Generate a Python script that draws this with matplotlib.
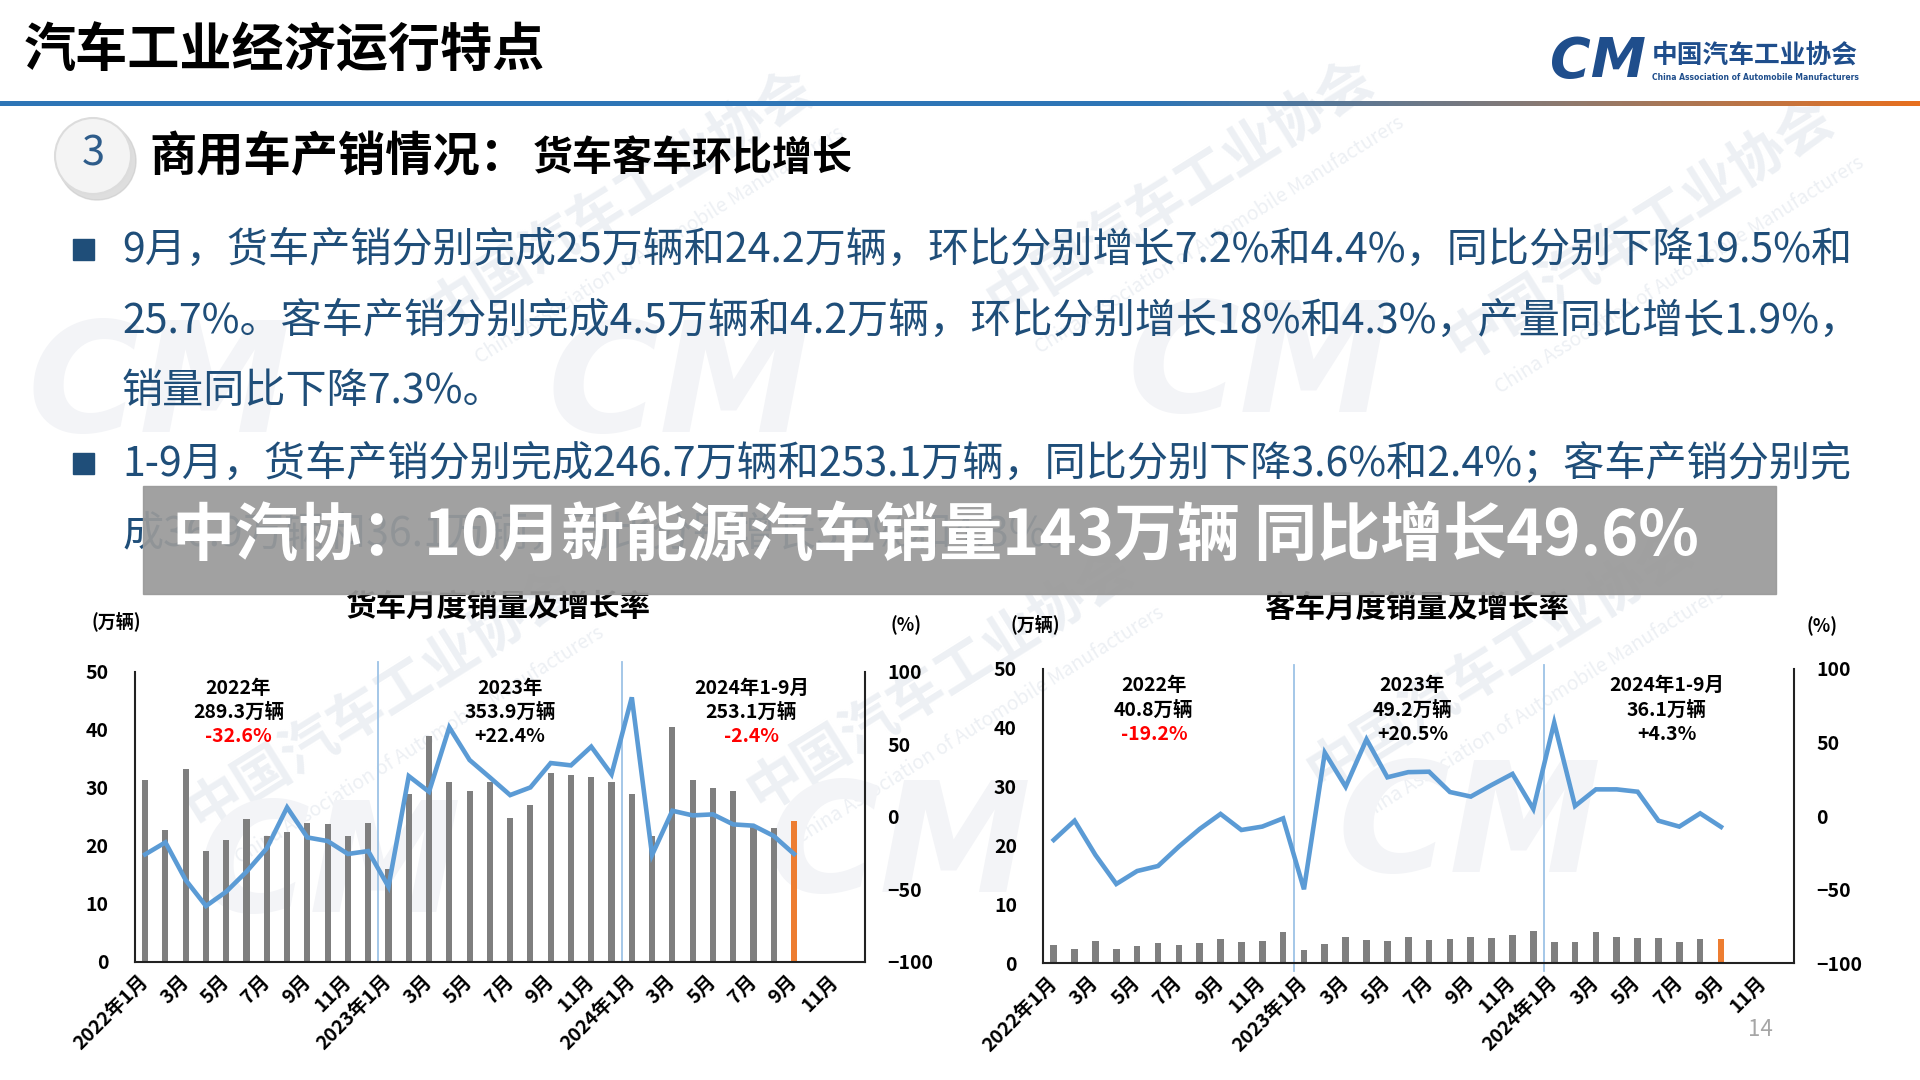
import numpy as np
import matplotlib
matplotlib.use('Agg')
import matplotlib.pyplot as plt
from matplotlib.patches import Rectangle, Circle

plt.rcParams['font.family'] = ['Noto Sans CJK SC', 'DejaVu Sans']

# 横軸ラベル (2022年1月 ~ 2024年12月, 2ヶ月おき)
tick_labels = ['2022年1月', '3月', '5月', '7月', '9月', '11月',
               '2023年1月', '3月', '5月', '7月', '9月', '11月',
               '2024年1月', '3月', '5月', '7月', '9月', '11月']

# 货车 月度销量(万辆) / 同比增长率(%)
truck_sales = [31.4, 22.7, 33.2, 19.1, 21.0, 24.6, 21.6, 22.4, 23.9, 23.7, 21.6, 23.9,
               15.9, 29.0, 38.9, 31.0, 29.4, 31.0, 24.8, 27.0, 32.5, 32.2, 31.8, 30.9,
               28.9, 21.6, 40.5, 31.3, 29.9, 29.4, 23.4, 23.1, 24.2]
truck_rate = [-26.0, -17.7, -43.7, -61.6, -51.7, -37.9, -21.8, 6.4, -14.3, -16.8, -25.7, -23.7,
              -48.3, 28.0, 17.2, 61.6, 39.1, 27.1, 14.9, 20.2, 37.0, 35.4, 48.3, 29.2,
              82.3, -26.4, 4.1, 0.9, 1.6, -5.3, -6.2, -13.3, -25.7]

# 客车
bus_sales = [3.1, 2.4, 3.8, 2.5, 2.9, 3.5, 3.1, 3.5, 4.1, 3.6, 3.8, 5.4,
             2.2, 3.3, 4.5, 3.9, 3.8, 4.5, 3.9, 4.1, 4.5, 4.3, 4.8, 5.5,
             3.6, 3.6, 5.3, 4.5, 4.3, 4.3, 3.6, 4.1, 4.2]
bus_rate = [-16.2, -3.1, -26.4, -46.1, -37.3, -33.9, -20.7, -8.7, 1.5, -9.4, -7.1, -1.5,
            -49.7, 43.1, 20.0, 52.2, 26.4, 29.9, 30.2, 16.4, 13.3, 21.2, 28.7, 4.9,
            63.5, 6.9, 18.2, 18.2, 16.6, -3.1, -7.1, 1.9, -7.3]

truck_notes = [('2022年', '289.3万辆', '-32.6%'),
               ('2023年', '353.9万辆', '+22.4%'),
               ('2024年1-9月', '253.1万辆', '-2.4%')]
bus_notes = [('2022年', '40.8万辆', '-19.2%'),
             ('2023年', '49.2万辆', '+20.5%'),
             ('2024年1-9月', '36.1万辆', '+4.3%')]

body_lines = ['9月，货车产销分别完成25万辆和24.2万辆，环比分别增长7.2%和4.4%，同比分别下降19.5%和',
              '25.7%。客车产销分别完成4.5万辆和4.2万辆，环比分别增长18%和4.3%，产量同比增长1.9%，',
              '销量同比下降7.3%。',
              '1-9月，货车产销分别完成246.7万辆和253.1万辆，同比分别下降3.6%和2.4%；客车产销分别完',
              '成36.9万辆和36.1万辆，同比分别增长3.9%和4.3%。']

W, H = 1920, 1080
fig = plt.figure(figsize=(19.2, 10.8), dpi=100)
fig.patch.set_facecolor('white')

# 背景 (ピクセル座標)
bg = fig.add_axes([0, 0, 1, 1])
bg.axis('off')

# 透かし
for cx, cy in [(620, 200), (1180, 190), (1640, 230), (380, 700), (940, 680), (1500, 660)]:
    bg.text(cx, cy, '中国汽车工业协会', rotation=32, fontsize=40, fontweight='bold',
            color='#edf0f4', ha='center', va='center', zorder=0)
    bg.text(cx + 40, cy + 45, 'China Association of Automobile Manufacturers', rotation=32,
            fontsize=14, style='italic', color='#edf0f4', ha='center', va='center', zorder=0)
for cx, cy in [(160, 390), (680, 390), (1260, 370), (330, 870), (900, 850), (1470, 830)]:
    bg.text(cx, cy, 'CM', fontsize=110, fontweight='bold', style='italic',
            color='#f3f4f7', ha='center', va='center', zorder=0, family='DejaVu Sans')

# タイトル
bg.text(24, 51, '汽车工业经济运行特点', fontsize=37.5, fontweight='bold', va='center', color='black')

# ロゴ
bg.text(1598, 62, 'CM', fontsize=40, fontweight='bold', style='italic', color='#1f4e8c',
        ha='center', va='center', family='DejaVu Sans')
bg.text(1652, 55, '中国汽车工业协会', fontsize=18.5, fontweight='bold', color='#1f4e8c', va='center')
bg.text(1652, 78, 'China Association of Automobile Manufacturers', fontsize=5.5,
        fontweight='bold', color='#1f4e8c', va='center', family='DejaVu Sans')

# 区切り線 (青→オレンジ)
xs = np.linspace(0, W, 600)
stops = [0, 1150, 1550, W]
cols = np.array([[46, 117, 182], [46, 117, 182], [138, 122, 114], [232, 112, 30]]) / 255
grad = np.stack([np.interp(xs, stops, cols[:, k]) for k in range(3)], axis=1)
bg.imshow(grad[np.newaxis, :, :], extent=(0, W, 106.5, 101.5), aspect='auto', zorder=2)

# 番号の丸
bg.add_patch(Circle((97, 161), 39, color='#c8c8c8', alpha=0.6, zorder=2))
bg.add_patch(Circle((93, 156), 38, facecolor='#f4f4f4', edgecolor='#dcdcdc', lw=1.5, zorder=3))
bg.text(93, 154, '3', fontsize=30, color='#2e5c8a', ha='center', va='center', zorder=4)
bg.text(149, 157, '商用车产销情况：', fontsize=34, fontweight='bold', va='center', color='black')
bg.text(533, 159, '货车客车环比增长', fontsize=28.8, fontweight='bold', va='center', color='black')

# 本文
body_y = [250, 321, 392, 464, 535]
for txt, yy in zip(body_lines, body_y):
    bg.text(122, yy, txt, fontsize=29.6, color='#1f4e79', va='center', zorder=3)
for yy in [body_y[0], body_y[3]]:
    bg.add_patch(Rectangle((73, yy - 11), 21, 21, color='#1f4e79', zorder=3))

# バナー
bg.add_patch(Rectangle((143, 486), 1633, 108, color='#9a9a9a', alpha=0.93, zorder=5))
bg.text(172, 536, '中汽协：10月新能源汽车销量143万辆 同比增长49.6%', fontsize=45.4,
        fontweight='bold', color='white', va='center', zorder=6)

# グラフタイトル等
bg.text(498, 607, '货车月度销量及增长率', fontsize=22, fontweight='bold', ha='center', va='center')
bg.text(1417, 608, '客车月度销量及增长率', fontsize=22, fontweight='bold', ha='center', va='center')
bg.text(116, 621, '(万辆)', fontsize=13, fontweight='bold', ha='center', va='center')
bg.text(906, 625, '(%)', fontsize=13, fontweight='bold', ha='center', va='center')
bg.text(1035, 624, '(万辆)', fontsize=13, fontweight='bold', ha='center', va='center')
bg.text(1822, 626, '(%)', fontsize=13, fontweight='bold', ha='center', va='center')
bg.text(1760, 1029, '14', fontsize=16, color='#a6a6a6', ha='center', va='center')

bg.set_xlim(0, W)
bg.set_ylim(H, 0)


def draw_chart(left, top, right, bottom, sales, rate, notes, note_x, bar_w, lpad, rpad, vtop, vbot):
    rect = [left / W, 1 - bottom / H, (right - left) / W, (bottom - top) / H]
    ax = fig.add_axes(rect)
    ax.set_facecolor('none')
    x = np.arange(len(sales))
    colors = ['#7f7f7f'] * (len(sales) - 1) + ['#ed7d31']
    ax.bar(x, sales, width=bar_w, color=colors, zorder=2)
    ax.set_xlim(-0.5, 35.5)
    ax.set_ylim(0, 50)
    ax.set_yticks(range(0, 51, 10))
    ax.set_xticks(np.arange(0, 36, 2))
    ax.set_xticklabels(tick_labels, rotation=45, ha='right', va='center', rotation_mode='anchor')
    ax.tick_params(axis='both', length=0, labelsize=14)
    ax.tick_params(axis='y', pad=lpad)
    ax.tick_params(axis='x', pad=12)
    for lab in ax.get_xticklabels() + ax.get_yticklabels():
        lab.set_fontweight('bold')
    ax.spines['top'].set_visible(False)
    ax.spines['right'].set_visible(False)
    for s in ['left', 'bottom']:
        ax.spines[s].set_linewidth(1.5)
        ax.spines[s].set_color('#222222')
    for sep in [11.5, 23.5]:
        ax.axvline(sep, ymin=vbot, ymax=vtop, color='#9dc3e6', lw=1.3, clip_on=False, zorder=1)
    tr = ax.get_xaxis_transform()
    for (a, b, c), nx in zip(notes, note_x):
        ax.text(nx, 0.943, a, transform=tr, fontsize=14, fontweight='bold', ha='center', va='center')
        ax.text(nx, 0.861, b, transform=tr, fontsize=14, fontweight='bold', ha='center', va='center')
        ax.text(nx, 0.778, c, transform=tr, fontsize=14, fontweight='bold', ha='center', va='center',
                color='#ff0000' if c.startswith('-') else 'black')

    ax2 = ax.twinx()
    ax2.plot(np.arange(len(rate)), rate, color='#5b9bd5', lw=3.3, zorder=3, solid_joinstyle='miter')
    ax2.set_ylim(-100, 100)
    ax2.set_yticks([-100, -50, 0, 50, 100])
    ax2.tick_params(axis='y', length=0, labelsize=14, pad=rpad)
    for lab in ax2.get_yticklabels():
        lab.set_fontweight('bold')
    ax2.spines['top'].set_visible(False)
    ax2.spines['left'].set_visible(False)
    ax2.spines['bottom'].set_visible(False)
    ax2.spines['right'].set_linewidth(1.5)
    ax2.spines['right'].set_color('#222222')


draw_chart(135, 671.7, 865, 961.7, truck_sales, truck_rate, truck_notes, [4.6, 18.0, 29.9],
           0.3, 19, 16, 1.034, 0.0)
draw_chart(1043.3, 669, 1794, 963.3, bus_sales, bus_rate, bus_notes, [4.8, 17.2, 29.4],
           0.32, 19, 16, 1.014, -0.025)

fig.savefig('out.png', dpi=100)
